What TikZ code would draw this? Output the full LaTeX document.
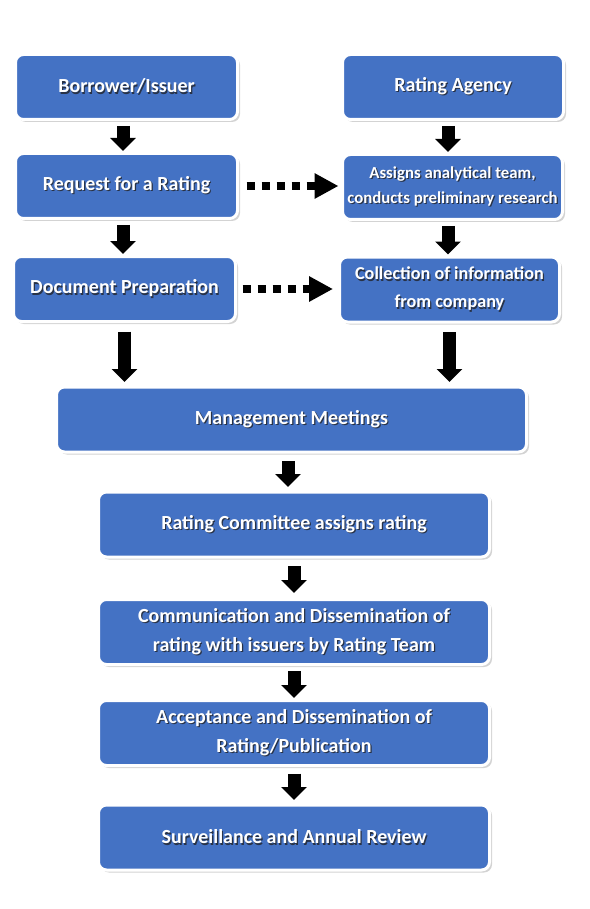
\documentclass[tikz,border=0pt]{standalone}
\usepackage{fontspec}
\setmainfont{Carlito}
\usepackage{xcolor}
\usetikzlibrary{arrows.meta,shadows}
\definecolor{officeblue}{RGB}{68,114,196}
\definecolor{textshade}{RGB}{40,50,70}
% white text with a soft dark shadow
\newcommand{\txtshadow}[1]{\leavevmode\rlap{\kern1.2pt\raisebox{-1.2pt}{\color{textshade}#1}}#1}

\begin{document}
\begin{tikzpicture}[line join=round,
        stepnode/.style={shape=rectangle, rounded corners=8pt, fill=officeblue, draw=white, line width=3pt,
          text=white, font=\bfseries\fontsize{20}{29}\selectfont, align=center, inner sep=0pt, minimum height=65pt,
          drop shadow={shadow xshift=2.5pt, shadow yshift=-2.5pt, opacity=0.35}},
        smallstepnode/.style={stepnode, font=\bfseries\fontsize{16.8}{25}\selectfont},
        blockarrow/.style={line width=13pt, -{Triangle[width=25pt, length=13pt]}, shorten <=5pt, shorten >=1pt},
        dotarrow/.style={line width=8pt, dash pattern=on 8pt off 7pt, -{Triangle[width=24pt, length=24pt]}}]
        \useasboundingbox (0pt, 0pt) rectangle (589pt, -909pt);
        % Borrower side
        \node[stepnode, minimum width=222pt] (borrower) at (126.5pt, -87pt) {\txtshadow{Borrower/Issuer}};
        \node[stepnode, minimum width=222pt] (request) at (126.5pt, -186pt) {\txtshadow{Request for a Rating}};
        \node[stepnode, minimum width=222pt] (docprep) at (124.5pt, -289pt) {\txtshadow{Document Preparation}};
        % Agency side
        \node[stepnode, minimum width=221pt] (agency) at (453pt, -87pt) {\txtshadow{Rating Agency}};
        \node[smallstepnode, minimum width=220pt] (assigns) at (452.5pt, -187pt) {\txtshadow{Assigns analytical team,}\\\txtshadow{conducts preliminary research}};
        \node[smallstepnode, font=\bfseries\fontsize{18.2}{28}\selectfont, minimum width=220pt] (collect) at (449.5pt, -289.5pt) {\txtshadow{Collection of information}\\\txtshadow{from company}};
        % Common steps
        \node[stepnode, minimum width=470pt] (mgmt) at (291.5pt, -419.5pt) {\txtshadow{Management Meetings}};
        \node[stepnode, minimum width=391pt] (committee) at (294pt, -524.5pt) {\txtshadow{Rating Committee assigns rating}};
        \node[stepnode, minimum width=391pt] (comm) at (294pt, -632pt) {\txtshadow{Communication and Dissemination of}\\\txtshadow{rating with issuers by Rating Team}};
        \node[stepnode, minimum width=391pt] (accept) at (294pt, -733pt) {\txtshadow{Acceptance and Dissemination of}\\\txtshadow{Rating/Publication}};
        \node[stepnode, minimum width=391pt] (surv) at (294pt, -837.5pt) {\txtshadow{Surveillance and Annual Review}};
        % Arrows
        \draw[blockarrow] ([xshift=-3.5pt]borrower.south) -- ([xshift=-3.5pt]borrower.south |- request.north);
        \draw[blockarrow] ([xshift=-3.5pt]request.south) -- ([xshift=-3.5pt]request.south |- docprep.north);
        \draw[blockarrow] ([xshift=-5pt]agency.south) -- ([xshift=-5pt]agency.south |- assigns.north);
        \draw[blockarrow] ([xshift=-4.5pt]assigns.south) -- ([xshift=-4.5pt]assigns.south |- collect.north);
        \draw[blockarrow, shorten <=8.5pt, shorten >=3.5pt] (docprep.south) -- (docprep.south |- mgmt.north);
        \draw[blockarrow, shorten <=8.5pt, shorten >=3.5pt] (collect.south) -- (collect.south |- mgmt.north);
        \draw[blockarrow, shorten <=7.5pt, shorten >=3.5pt] ([xshift=-3.5pt]mgmt.south) -- ([xshift=-3.5pt]mgmt.south |- committee.north);
        \draw[blockarrow, shorten <=7.5pt, shorten >=5pt] (committee.south) -- (comm.north);
        \draw[blockarrow] (comm.south) -- (accept.north);
        \draw[blockarrow, shorten <=6.5pt, shorten >=3.5pt] (accept.south) -- (surv.north);
        % Dotted links
        \draw[dotarrow, shorten <=7.5pt, shorten >=2.5pt] (request.east) -- (request.east -| assigns.west);
        \draw[dotarrow, shorten <=5.5pt, shorten >=5pt] (docprep.east) -- (docprep.east -| collect.west);
\end{tikzpicture}
\end{document}
